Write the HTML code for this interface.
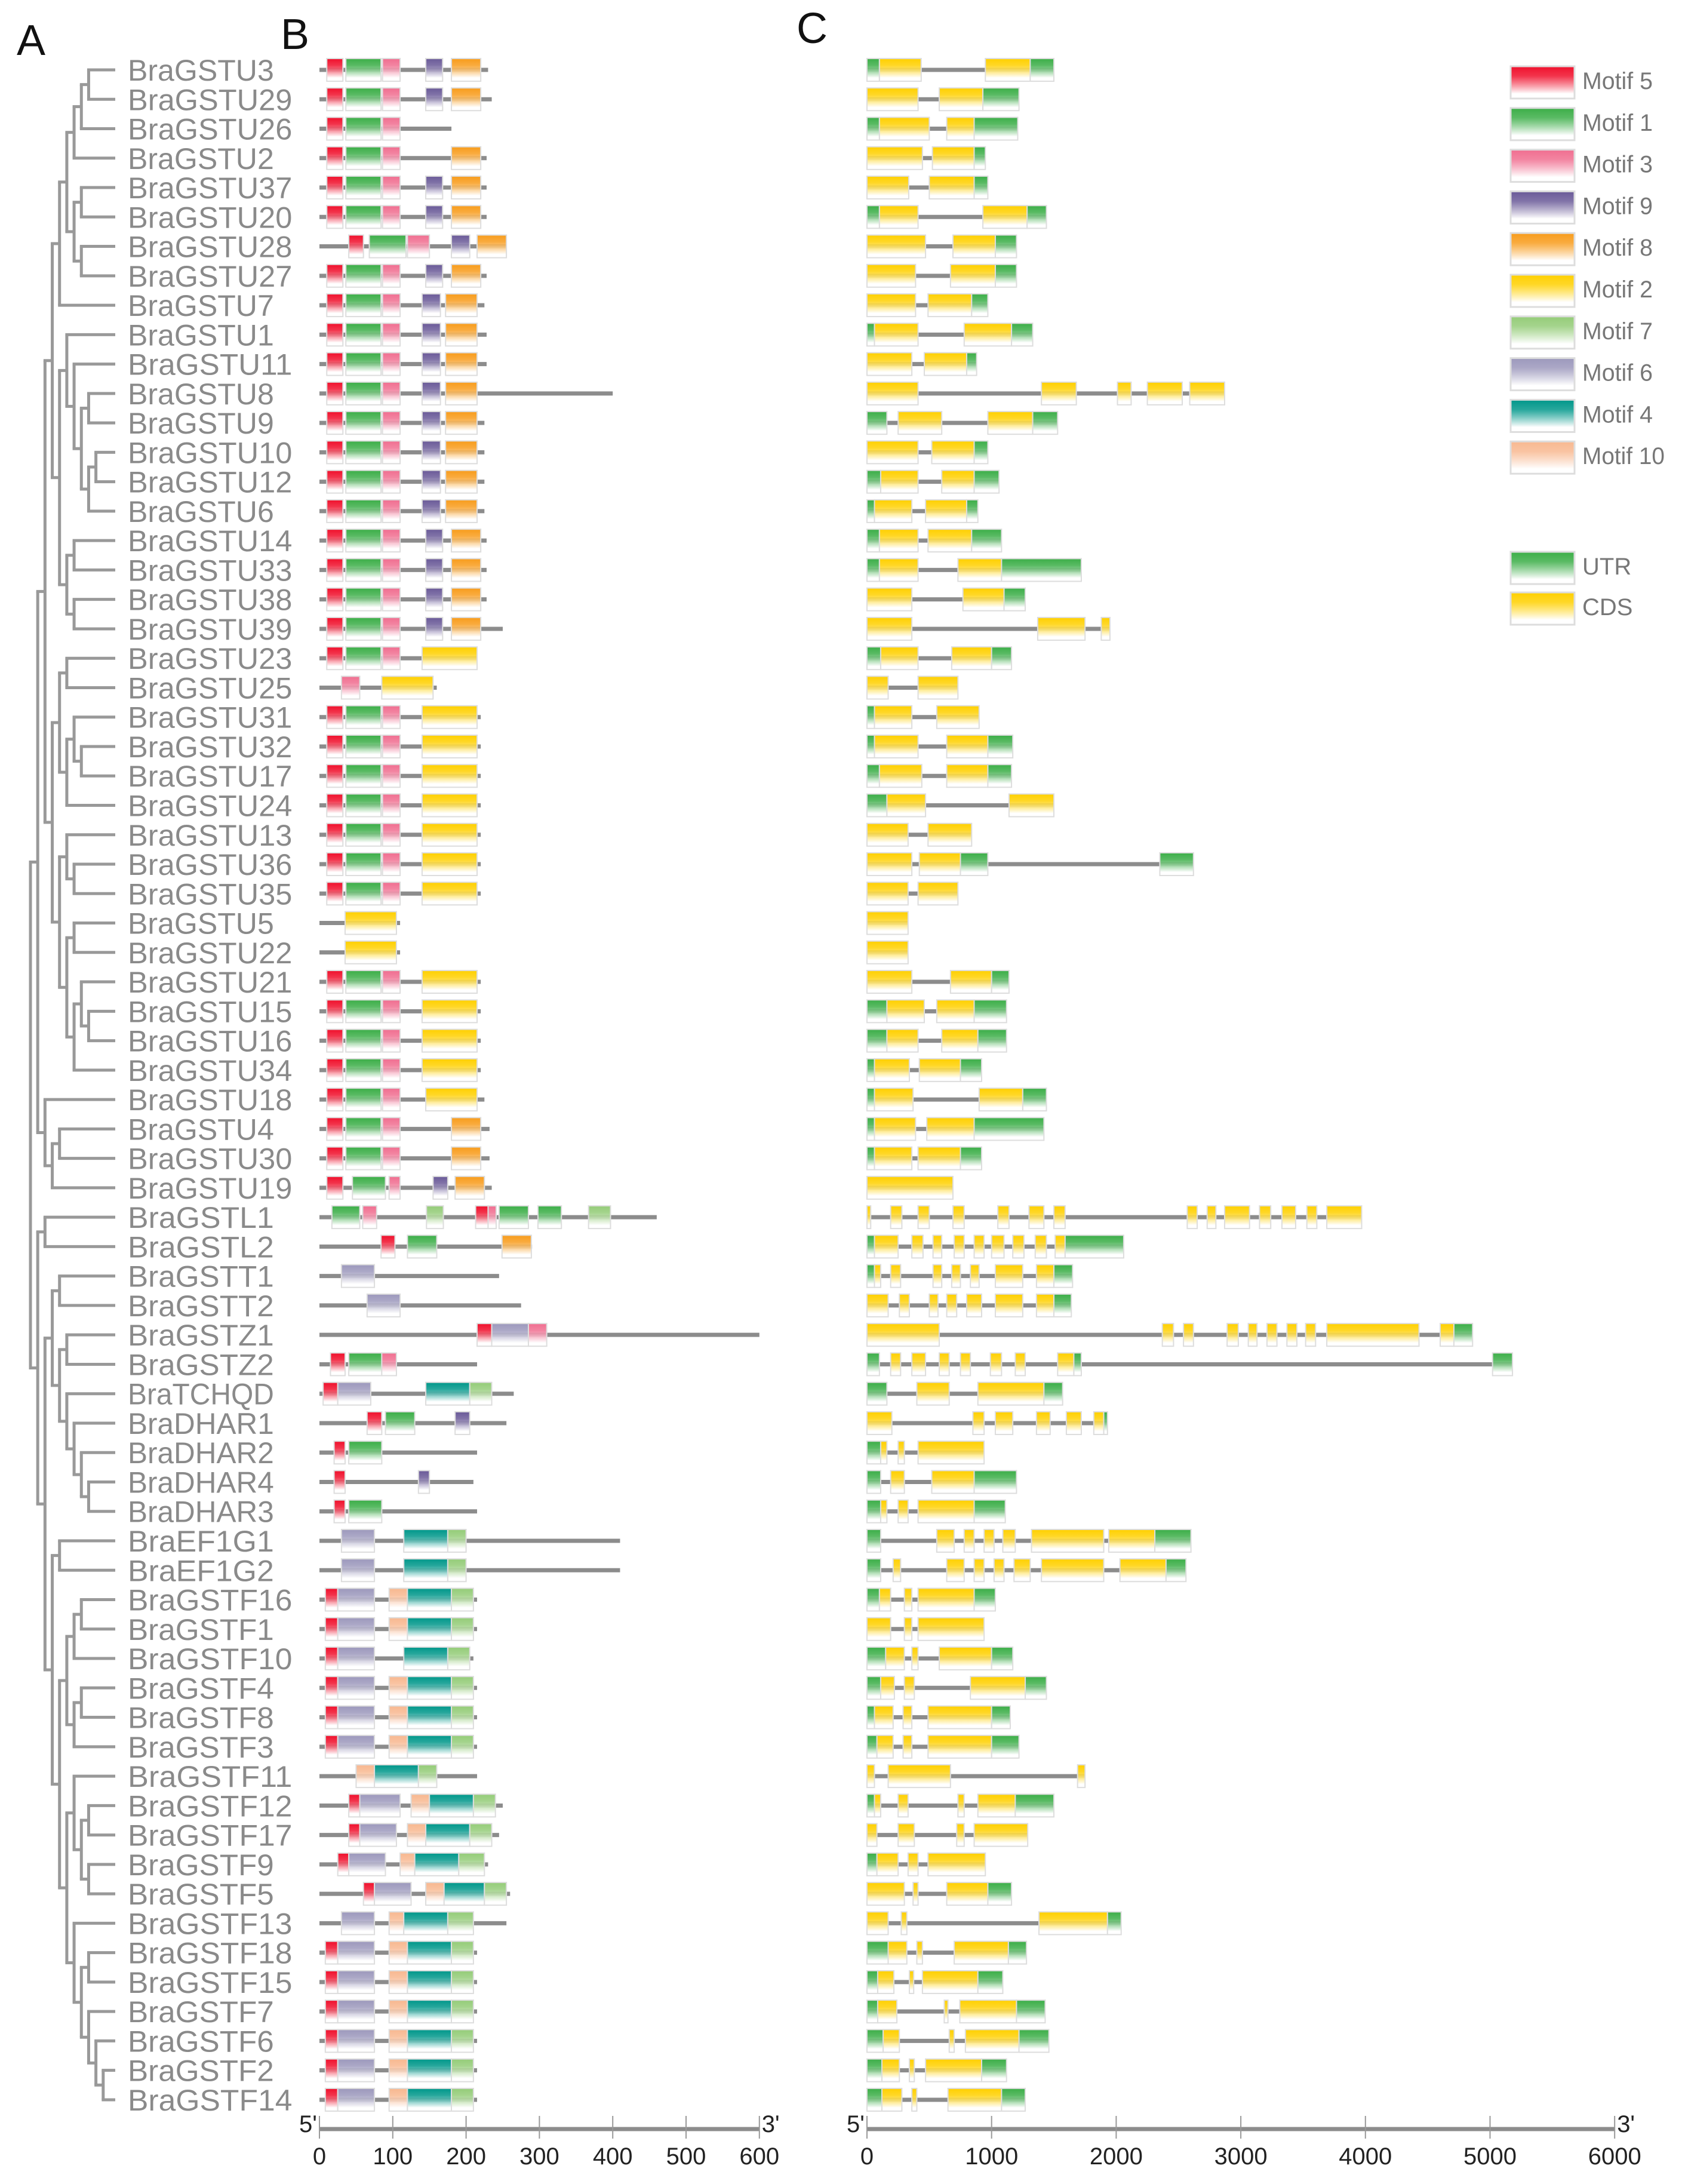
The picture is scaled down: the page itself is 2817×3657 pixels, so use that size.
<!DOCTYPE html>
<html><head><meta charset="utf-8"><style>
html,body{margin:0;padding:0;background:#fff;}
svg{display:block;font-family:"Liberation Sans",sans-serif;}
</style></head><body>
<svg id="fig" width="2817" height="3657" viewBox="0 0 2817 3657" xmlns="http://www.w3.org/2000/svg">
<defs id="gdefs"></defs>
<text x="28" y="92" font-size="72" fill="#111">A</text>
<text x="470" y="82" font-size="72" fill="#111">B</text>
<text x="1334" y="72" font-size="72" fill="#111">C</text>
<g id="gTree"></g>
<g id="gLabels"></g>
<g id="gMotifs"></g>
<g id="gGenes"></g>
<g id="gLegend"></g>
<g id="gAxes"></g>
</svg>
<script>
var geneNames = ["BraGSTU3","BraGSTU29","BraGSTU26","BraGSTU2","BraGSTU37","BraGSTU20","BraGSTU28","BraGSTU27","BraGSTU7","BraGSTU1","BraGSTU11","BraGSTU8","BraGSTU9","BraGSTU10","BraGSTU12","BraGSTU6","BraGSTU14","BraGSTU33","BraGSTU38","BraGSTU39","BraGSTU23","BraGSTU25","BraGSTU31","BraGSTU32","BraGSTU17","BraGSTU24","BraGSTU13","BraGSTU36","BraGSTU35","BraGSTU5","BraGSTU22","BraGSTU21","BraGSTU15","BraGSTU16","BraGSTU34","BraGSTU18","BraGSTU4","BraGSTU30","BraGSTU19","BraGSTL1","BraGSTL2","BraGSTT1","BraGSTT2","BraGSTZ1","BraGSTZ2","BraTCHQD","BraDHAR1","BraDHAR2","BraDHAR4","BraDHAR3","BraEF1G1","BraEF1G2","BraGSTF16","BraGSTF1","BraGSTF10","BraGSTF4","BraGSTF8","BraGSTF3","BraGSTF11","BraGSTF12","BraGSTF17","BraGSTF9","BraGSTF5","BraGSTF13","BraGSTF18","BraGSTF15","BraGSTF7","BraGSTF6","BraGSTF2","BraGSTF14"];
var proteinLen = [230,235,180,228,228,228,255,228,225,228,228,400,225,225,225,225,228,228,228,250,215,160,220,220,220,220,220,220,220,110,110,220,220,220,220,225,232,232,235,460,290,245,275,600,215,265,255,215,210,215,410,410,215,215,210,215,215,215,215,250,245,230,260,255,215,215,215,215,215,215];
var mU = "5:10-32,1:36-84,3:86-110,9:145-168,8:180-220";
var mU2 = "5:10-32,1:36-84,3:86-110,9:140-165,8:172-215";
var mUY = "5:10-32,1:36-84,3:86-110,2:140-215";
var mF = "5:8-25,6:25-75,10:95-120,4:120-180,7:180-210";
var motifSpec = [mU,mU,"5:10-32,1:36-84,3:86-110","5:10-32,1:36-84,3:86-110,8:180-220",mU,mU,"5:40-60,1:68-118,3:120-150,9:180-205,8:215-255",mU,mU2,
 mU2,mU2,mU2,mU2,mU2,mU2,mU2,
 mU,mU,mU,mU,mUY,"3:30-55,2:85-155",mUY,mUY,mUY,mUY,mUY,mUY,mUY,"2:35-105","2:35-105",mUY,mUY,mUY,mUY,"5:10-32,1:36-84,3:86-110,2:145-215","5:10-32,1:36-84,3:86-110,8:180-220","5:10-32,1:36-84,3:86-110,8:180-220","5:10-32,1:45-90,3:95-110,9:155-175,8:185-225",
 "1:17-55,3:59-78,7:146-169,5:213-230,3:230-241,1:245-285,1:298-330,7:367-397","5:84-103,1:120-160,8:249-289","6:30-75","6:65-110","5:215-235,6:235-285,3:285-310","5:15-35,1:40-85,3:85-105","5:5-25,6:25-70,4:145-205,7:205-235","5:65-85,1:90-130,9:185-205","5:20-35,1:40-85","5:20-35,9:135-150","5:20-35,1:40-85","6:30-75,4:115-175,7:175-200","6:30-75,4:115-175,7:175-200",
 mF,mF,"5:8-25,6:25-75,4:115-175,7:175-205",mF,mF,mF,"10:50-75,4:75-135,7:135-160","5:40-55,6:55-110,10:125-150,4:150-210,7:210-240","5:40-55,6:55-105,10:120-145,4:145-205,7:205-235","5:25-40,6:40-90,10:110-130,4:130-190,7:190-225","5:60-75,6:75-125,10:145-170,4:170-225,7:225-255","6:30-75,10:95-115,4:115-175,7:175-210",mF,mF,mF,mF,mF,mF];
var geneSpec = [
"G0-100,Y100-435,Y950-1310,G1310-1500","Y0-410,Y580-930,G930-1220","G0-100,Y100-500,Y640-860,G860-1210","Y0-445,Y525-860,G860-950","Y0-335,Y500-860,G860-970","G0-100,Y100-410,Y930-1285,G1285-1440","Y0-470,Y690-1030,G1030-1200","Y0-390,Y670-1030,G1030-1200","Y0-390,Y490-840,G840-970","G0-60,Y60-410,Y780-1160,G1160-1330",
"Y0-360,Y460-800,G800-880","Y0-410,Y1400-1680,Y2010-2120,Y2250-2530,Y2590-2870","G0-160,Y250-600,Y970-1330,G1330-1530","Y0-410,Y520-860,G860-970","G0-110,Y110-410,Y600-860,G860-1060","G0-60,Y60-360,Y470-800,G800-890","G0-100,Y100-410,Y490-840,G840-1080","G0-100,Y100-410,Y730-1080,G1080-1720","Y0-360,Y770-1100,G1100-1270","Y0-360,Y1370-1750,Y1880-1950",
"G0-110,Y110-410,Y680-1000,G1000-1160","Y0-170,Y410-730","G0-60,Y60-360,Y560-900","G0-60,Y60-410,Y640-970,G970-1170","G0-100,Y100-440,Y640-970,G970-1160","G0-160,Y160-470,Y1140-1500","Y0-330,Y490-840","Y0-360,Y420-750,G750-970,G2350-2620","Y0-330,Y410-730","Y0-330",
"Y0-330","Y0-360,Y670-1000,G1000-1140","G0-160,Y160-460,Y560-860,G860-1120","G0-160,Y160-410,Y600-890,G890-1120","G0-60,Y60-340,Y420-750,G750-920","G0-60,Y60-370,Y900-1250,G1250-1440","G0-60,Y60-390,Y480-860,G860-1420","G0-60,Y60-360,Y410-750,G750-920","Y0-690",
"Y0-30,Y190-280,Y410-500,Y690-780,Y1050-1140,Y1300-1420,Y1500-1590,Y2570-2650,Y2730-2800,Y2870-3070,Y3150-3240,Y3330-3440,Y3530-3610,Y3690-3970",
"G0-60,Y60-250,Y360-450,Y530-600,Y700-780,Y860-940,Y1000-1100,Y1170-1260,Y1350-1440,Y1510-1590,G1590-2060",
"G0-60,Y60-110,Y190-270,Y530-600,Y680-750,Y830-900,Y1030-1250,Y1360-1500,G1500-1650","Y0-170,Y260-340,Y500-570,Y640-720,Y800-920,Y1030-1250,Y1360-1500,G1500-1640",
"Y0-580,Y2370-2460,Y2540-2620,Y2890-2980,Y3060-3130,Y3210-3290,Y3370-3450,Y3520-3600,Y3690-4430,Y4600-4710,G4710-4860",
"G0-100,Y190-270,Y360-470,Y580-660,Y750-830,Y990-1080,Y1190-1270,Y1530-1660,G1660-1720,G5020-5180",
"G0-160,Y400-660,Y890-1420,G1420-1570","Y0-200,Y850-940,Y1030-1170,Y1360-1470,Y1600-1720,Y1820-1900,G1900-1930","G0-110,Y110-160,Y250-300,Y410-940","G0-110,Y190-300,Y520-860,G860-1200","G0-110,Y110-160,Y250-330,Y410-860,G860-1110",
"G0-110,Y560-700,Y780-860,Y940-1020,Y1090-1190,Y1320-1900,Y1940-2310,G2310-2600","G0-110,Y210-270,Y640-780,Y860-940,Y1020-1100,Y1180-1310,Y1400-1900,Y2030-2400,G2400-2560",
"G0-100,Y100-190,Y300-360,Y410-860,G860-1030","Y0-190,Y300-360,Y410-940","G0-150,Y150-300,Y360-410,Y580-1000,G1000-1170","G0-110,Y110-220,Y300-380,Y830-1270,G1270-1440","G0-60,Y60-210,Y290-360,Y490-1000,G1000-1150","G0-80,Y80-210,Y290-360,Y490-1000,G1000-1220",
"Y0-60,Y170-670,Y1690-1750","G0-60,Y60-110,Y250-330,Y730-780,Y890-1190,G1190-1500","Y0-80,Y250-380,Y720-780,Y860-1290","G0-80,Y80-250,Y330-410,Y490-950","Y0-300,Y370-410,Y640-970,G970-1160","Y0-170,Y275-320,Y1380-1930,G1930-2040",
"G0-170,Y170-320,Y400-445,Y700-1135,G1135-1280","G0-86,Y86-216,Y340-375,Y445-890,G890-1090","G0-86,Y86-240,Y620-650,Y745-1200,G1200-1430","G0-130,Y130-260,Y660-700,Y790-1220,G1220-1460","G0-120,Y120-260,Y340-380,Y470-920,G920-1120","G0-120,Y120-280,Y360-400,Y650-1080,G1080-1270"];
var cladeUA = [[[[[0,1],2],3],[[4,5],[6,7]]],8];
var cladeUB = [[9,[10,[[11,12],[[13,14],15]]]],[[16,17],[18,19]]];
var cladeUC = [[[20,21],[[22,[23,24]],25]],[[26,[27,28]],[[29,30],[[31,[32,33]],34]]]];
var cladeUD = [35,[[36,37],38]];
var cladeMid = [[41,42],[[43,44],[45,[46,[47,[48,49]]]]]];
var cladeF = [[[[52,53],54],[[55,56],57]],[[58,[[59,60],[61,62]]],[63,[[64,65],[66,[67,[68,69]]]]]]];
var treeTopology = [[[[cladeUA,cladeUB],cladeUC],cladeUD],[[39,40],[cladeMid,[[50,51],cladeF]]]];
var motifIds = ["5","1","3","9","8","2","7","6","4","10"];
var motifColors = ["#f0102c","#3cae48","#f06e90","#6a5a98","#f89c1c","#ffd000","#94cc78","#9c98bc","#00978a","#f8b890"];
var aaTicks = [0,100,200,300,400,500,600];
var bpTicks = [0,1000,2000,3000,4000,5000,6000];

var SVGNS = "http://www.w3.org/2000/svg";
function mk(tag, attrs, parent){
  var e = document.createElementNS(SVGNS, tag);
  for (var k in attrs) { e.setAttribute(k, String(attrs[k])); }
  parent.appendChild(e);
  return e;
}
function rowY(i){ return 117 + i*49.26; }
function xAA(v){ return 535 + v*1.228; }
function xBP(v){ return 1452 + v*0.2087; }
var BH = 38;

try {
  var defsEl = document.getElementById('gdefs');
  var makeGrad = function(id, c){
    var g = mk('linearGradient', {id:id, x1:0, y1:0, x2:0, y2:1}, defsEl);
    mk('stop', {'offset':'0', 'stop-color':c}, g);
    mk('stop', {'offset':'0.3', 'stop-color':c, 'stop-opacity':'0.85'}, g);
    mk('stop', {'offset':'0.85', 'stop-color':'#ffffff'}, g);
    mk('stop', {'offset':'1', 'stop-color':'#ffffff'}, g);
  };
  for (var q = 0; q < motifIds.length; q++) { makeGrad('m' + motifIds[q], motifColors[q]); }
  makeGrad('gU', '#3cae48');
  makeGrad('gC', '#ffd000');
} catch(err) { console.log(err); }

try {
  var treeEl = document.getElementById('gTree');
  var depthOf = function(n){
    if (!Array.isArray(n)) return 0;
    var m = 0;
    for (var i = 0; i < n.length; i++) { m = Math.max(m, depthOf(n[i])); }
    return 1 + m;
  };
  var maxD = depthOf(treeTopology);
  var stepX = (185 - 51) / maxD;
  var drawNode = function(n, d){
    if (!Array.isArray(n)) return {y: rowY(n), x: 193};
    var x = 51 + d*stepX;
    var ch = [];
    for (var i = 0; i < n.length; i++) { ch.push(drawNode(n[i], d+1)); }
    var ymin = 1e9, ymax = -1e9;
    for (var j = 0; j < ch.length; j++) { ymin = Math.min(ymin, ch[j].y); ymax = Math.max(ymax, ch[j].y); }
    var v = mk('line', {x1:x, x2:x, y1:ymin, y2:ymax, stroke:'#999', 'stroke-width':5}, treeEl);
    
    
    for (var k = 0; k < ch.length; k++) {
      var h = mk('line', {x1:x-2.5, x2:ch[k].x, y1:ch[k].y, y2:ch[k].y, stroke:'#999', 'stroke-width':5}, treeEl);
      
      
    }
    return {y:(ymin+ymax)/2, x:x};
  };
  drawNode(treeTopology, 0);
} catch(err) { console.log(err); }

try {
  var labelsEl = document.getElementById('gLabels');
  for (var i = 0; i < geneNames.length; i++) {
    var nm = geneNames[i];
    var t = mk('text', {x:214, y:rowY(i)+18, 'font-size':50, fill:'#8a8a8a', textLength:nm.length*30.6, lengthAdjust:'spacingAndGlyphs'}, labelsEl);
    t.textContent = nm;
    
    
  }
} catch(err) { console.log(err); }

try {
  var motifEl = document.getElementById('gMotifs');
  for (var i2 = 0; i2 < geneNames.length; i2++) {
    var y = rowY(i2);
    var ln = mk('line', {x1:xAA(0), x2:xAA(proteinLen[i2]), y1:y, y2:y, stroke:'#8c8c8c', 'stroke-width':7}, motifEl);
    
    
    var parts = motifSpec[i2].split(',');
    for (var p = 0; p < parts.length; p++) {
      var mm = parts[p].split(':');
      var ab = mm[1].split('-');
      var a = Number(ab[0]), b = Number(ab[1]);
      var rc = mk('rect', {x:xAA(a), y:y-BH/2, width:xAA(b)-xAA(a), height:BH, fill:'url(#m'+mm[0]+')', stroke:'#dddddd', 'stroke-width':2}, motifEl);
      
      
    }
  }
} catch(err) { console.log(err); }

try {
  var genesEl = document.getElementById('gGenes');
  for (var i3 = 0; i3 < geneNames.length; i3++) {
    var yy = rowY(i3);
    var segs = geneSpec[i3].split(',').map(function(s){
      var r = s.slice(1).split('-');
      return {t:s.charAt(0), a:Number(r[0]), b:Number(r[1])};
    });
    var end = 0;
    for (var s1 = 0; s1 < segs.length; s1++) { end = Math.max(end, segs[s1].b); }
    var il = mk('line', {x1:xBP(0), x2:xBP(end), y1:yy, y2:yy, stroke:'#8c8c8c', 'stroke-width':7}, genesEl);
    
    
    for (var s2 = 0; s2 < segs.length; s2++) {
      var sg = segs[s2];
      var ex = mk('rect', {x:xBP(sg.a), y:yy-BH/2, width:Math.max(3, xBP(sg.b)-xBP(sg.a)), height:BH, fill:(sg.t==='G'?'url(#gU)':'url(#gC)'), stroke:'#dddddd', 'stroke-width':2}, genesEl);
      
      
    }
  }
} catch(err) { console.log(err); }

try {
  var legEl = document.getElementById('gLegend');
  for (var li = 0; li < motifIds.length; li++) {
    var ly = 111 + li*69.8;
    var mid = motifIds[li];
    var sw = mk('rect', {x:2530, y:ly, width:107, height:54, fill:'url(#m'+mid+')', stroke:'#dddddd', 'stroke-width':3}, legEl);
    
    
    var lt = mk('text', {x:2650, y:ly+38, 'font-size':40, fill:'#777', textLength:(mid.length>1?138:118), lengthAdjust:'spacingAndGlyphs'}, legEl);
    lt.textContent = 'Motif ' + mid;
    
    
  }
  var extra = [['UTR','gU',924],['CDS','gC',992]];
  for (var e2 = 0; e2 < extra.length; e2++) {
    var sw2 = mk('rect', {x:2530, y:extra[e2][2], width:107, height:54, fill:'url(#'+extra[e2][1]+')', stroke:'#dddddd', 'stroke-width':3}, legEl);
    
    
    var lt2 = mk('text', {x:2650, y:extra[e2][2]+38, 'font-size':40, fill:'#777'}, legEl);
    lt2.textContent = extra[e2][0];
    
    
  }
} catch(err) { console.log(err); }

try {
  var axEl = document.getElementById('gAxes');
  var drawAxis = function(ticks, fx, name){
    var y = 3565;
    var l = mk('line', {x1:fx(ticks[0]), x2:fx(ticks[ticks.length-1]), y1:y, y2:y, stroke:'#8c8c8c', 'stroke-width':7}, axEl);
    
    
    for (var k = 0; k < ticks.length; k++) {
      var v = ticks[k];
      var tk = mk('line', {x1:fx(v), x2:fx(v), y1:y-22, y2:y+16, stroke:'#999', 'stroke-width':2}, axEl);
      
      
      var tl = mk('text', {x:fx(v), y:3624, 'font-size':40, fill:'#222', 'text-anchor':'middle'}, axEl);
      tl.textContent = String(v);
      
      
    }
    var a5 = mk('text', {x:fx(ticks[0])-34, y:3570, 'font-size':40, fill:'#222'}, axEl);
    a5.textContent = "5'";
    
    
    var a3 = mk('text', {x:fx(ticks[ticks.length-1])+4, y:3570, 'font-size':40, fill:'#222'}, axEl);
    a3.textContent = "3'";
    
    
  };
  drawAxis(aaTicks, xAA, 'protein-axis');
  drawAxis(bpTicks, xBP, 'gene-axis');
} catch(err) { console.log(err); }
</script>
</body></html>
